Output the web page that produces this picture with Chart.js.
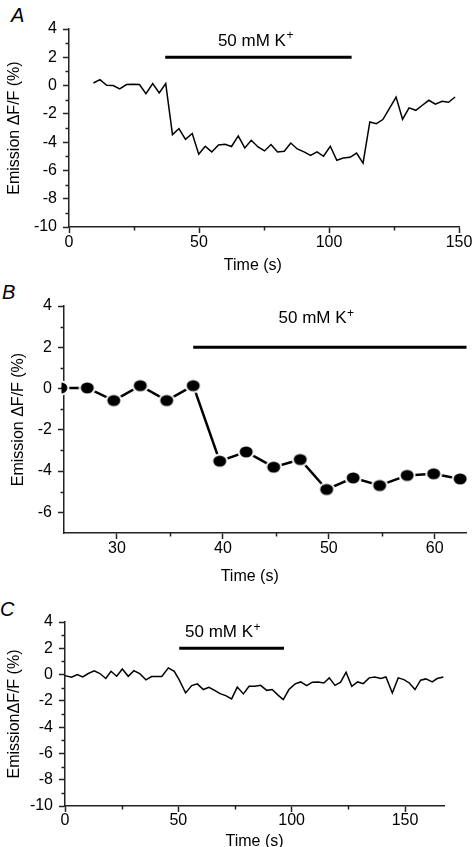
<!DOCTYPE html>
<html>
<head>
<meta charset="utf-8">
<script src="https://cdn.jsdelivr.net/npm/chart.js@4.4.0/dist/chart.umd.min.js"></script>
<style>
	html, body { margin: 0; padding: 0; background: #fff; }
	body { width: 475px; height: 847px; overflow: hidden; position: relative; }
	.panel { position: absolute; left: 0; }
	.letter { position: absolute; font: italic 20px 'Liberation Sans', Arial, sans-serif; line-height: 1; color: #000; }
</style>
</head>
<body>

<div class="letter" style="left:11px;top:5px">A</div>
<div class="letter" style="left:2px;top:282px">B</div>
<div class="letter" style="left:0px;top:599px">C</div>

<canvas class="panel" id="chartA" width="475" height="282" style="top:0px"></canvas>
<canvas class="panel" id="chartB" width="475" height="310" style="top:280px"></canvas>
<canvas class="panel" id="chartC" width="475" height="300" style="top:560px"></canvas>

<script>

// ---- data ----

// panel A: whole recording
var timeA = [9.4, 11.9, 14.5, 17.0, 19.5, 22.1, 24.6, 27.1, 29.6, 32.2, 34.7, 37.2, 39.8, 42.3,
	44.8, 47.4, 49.9, 52.4, 54.9, 57.5, 60.0, 62.5, 65.1, 67.6, 70.1, 72.7, 75.2, 77.7, 80.2,
	82.8, 85.3, 87.8, 90.4, 92.9, 95.4, 97.9, 100.5, 103.0, 105.5, 108.1, 110.6, 113.1, 115.7,
	118.2, 120.7, 123.2, 125.8, 128.3, 130.8, 133.4, 135.9, 138.4, 140.9, 143.5, 146.0, 148.5];
var emissionA = [0.18, 0.42, 0.02, 0.0, -0.24, 0.07, 0.09, 0.07, -0.57, 0.14, -0.52, 0.14, -3.47, -3.04,
	-3.80, -3.39, -4.86, -4.29, -4.69, -4.20, -4.15, -4.31, -3.56, -4.41, -3.87, -4.34, -4.62, -4.17, -4.69,
	-4.65, -4.06, -4.48, -4.69, -4.93, -4.69, -5.00, -4.29, -5.28, -5.12, -5.07, -4.77, -5.49, -2.57,
	-2.69, -2.40, -1.63, -0.81, -2.38, -1.58, -1.75, -1.39, -1.04, -1.32, -1.11, -1.18, -0.81];

// panel B: zoom on the onset
var timeB = [24.7, 27.2, 29.7, 32.2, 34.7, 37.2, 39.7, 42.2, 44.8, 47.3, 49.8, 52.3, 54.8, 57.4, 59.9, 62.4];
var emissionB = [0.03, 0.03, -0.58, 0.14, -0.58, 0.14, -3.52, -3.07, -3.81, -3.44, -4.89, -4.33, -4.70, -4.21, -4.13, -4.38];

// panel C: second cell
var timeC = [0.0, 2.9, 5.4, 7.8, 10.3, 12.9, 15.4, 18.0, 20.3, 22.8, 25.3, 27.9, 30.4, 33.1, 35.7, 38.2,
	40.4, 42.7, 45.6, 48.2, 50.4, 53.2, 55.9, 58.4, 61.0, 63.5, 66.2, 68.4, 70.9, 73.5, 76.0, 78.7,
	81.2, 83.8, 86.3, 89.0, 91.4, 94.1, 96.3, 98.8, 101.5, 104.0, 106.6, 109.1, 111.7, 114.2, 116.6,
	119.1, 121.6, 124.0, 126.5, 129.1, 131.6, 134.2, 136.7, 139.3, 141.6, 144.4, 147.0, 149.5, 151.9,
	154.4, 156.9, 159.2, 162.0, 164.2, 166.9];
var emissionC = [-0.08, -0.2, 0.0, -0.18, 0.08, 0.28, 0.08, -0.3, 0.25, -0.13, 0.43, -0.13, 0.3, 0.05, -0.4, -0.15,
	-0.15, -0.15, 0.51, 0.25, -0.4, -1.4, -0.84, -0.71, -1.14, -0.97, -1.22, -1.45, -1.6, -1.85, -0.95, -1.47,
	-0.89, -0.89, -0.82, -1.2, -1.14, -1.58, -1.9, -1.14, -0.71, -0.56, -0.84, -0.58, -0.56, -0.64, -0.25,
	-0.82, -0.58, 0.18, -0.89, -0.56, -0.69, -0.25, -0.18, -0.3, -0.18, -1.4, -0.25, -0.38, -0.64,
	-1.14, -0.43, -0.33, -0.56, -0.3, -0.18];

// 50 mM K+ application (start, end in s) and where its label sits (time, value)
var stimA = [37.0, 108.7], stimLabelA = [71.7, 3.15];
var stimB = [37.2, 63.0], stimLabelB = [48.8, 3.38];
var stimC = [50.4, 96.6], stimLabelC = [69.5, 3.2];
var stimLevel = 2;
var stimText = '50 mM K';

// tick labels
var xTicksA = [0, 50, 100, 150], xMinorA = [25, 75, 125];
var yTicksA = [-10, -8, -6, -4, -2, 0, 2, 4], yMinorA = [-9, -7, -5, -3, -1, 1, 3];
var xTicksB = [30, 40, 50, 60], xMinorB = [35, 45, 55];
var yTicksB = [-6, -4, -2, 0, 2, 4], yMinorB = [-5, -3, -1, 1, 3];
var xTicksC = [0, 50, 100, 150], xMinorC = [25, 75, 125];
var yTicksC = yTicksA, yMinorC = yMinorA;

// ---- drawing ----

var family = "'Liberation Sans', Arial, Helvetica, sans-serif";
var ink = '#000';
var axisInk = '#222';

function toPoints(xs, ys) {
	return xs.map(function(x, i) { return {x: x, y: ys[i]}; });
}

// filled ellipse with a white rim, so the joining line stops short of the dot
function makeDot() {
	var c = document.createElement('canvas');
	c.width = 18; c.height = 16;
	var g = c.getContext('2d');
	g.fillStyle = '#fff';
	g.beginPath(); g.ellipse(9, 8, 8.5, 7.5, 0, 0, Math.PI * 2); g.fill();
	g.fillStyle = ink;
	g.beginPath(); g.ellipse(9, 8, 6.5, 5.5, 0, 0, Math.PI * 2); g.fill();
	return c;
}

// short minor ticks + the "50 mM K+" label
var extrasPlugin = {
	id: 'extras',
	afterDraw: function(chart, args, opts) {
		var ctx = chart.ctx, xs = chart.scales.x, ys = chart.scales.y;
		ctx.save();
		ctx.strokeStyle = axisInk;
		ctx.lineWidth = 1.5;
		opts.xMinor.forEach(function(v) {
			var px = Math.round(xs.getPixelForValue(v)) + 0.5;
			ctx.beginPath(); ctx.moveTo(px, xs.top); ctx.lineTo(px, xs.top + 3.5); ctx.stroke();
		});
		opts.yMinor.forEach(function(v) {
			var py = Math.round(ys.getPixelForValue(v)) + 0.5;
			ctx.beginPath(); ctx.moveTo(ys.right, py); ctx.lineTo(ys.right - 3.5, py); ctx.stroke();
		});

		var lx = xs.getPixelForValue(opts.label[0]);
		var ly = ys.getPixelForValue(opts.label[1]);
		ctx.fillStyle = ink;
		ctx.textBaseline = 'middle';
		ctx.textAlign = 'left';
		ctx.font = '17px ' + family;
		var w1 = ctx.measureText(stimText).width;
		ctx.font = '12px ' + family;
		var w2 = ctx.measureText('+').width;
		var x0 = lx - (w1 + w2) / 2;
		ctx.font = '17px ' + family;
		ctx.fillText(stimText, x0, ly);
		ctx.font = '12px ' + family;
		ctx.fillText('+', x0 + w1 + 0.5, ly - 5);
		ctx.restore();
	}
};

function fixedTicks(list) {
	return function(scale) {
		scale.ticks = list.map(function(v) { return {value: v}; });
	};
}

function buildPanel(id, p) {
	var canvas = document.getElementById(id);
	var H = canvas.height;

	var trace = {
		data: toPoints(p.time, p.values),
		borderColor: ink,
		borderWidth: p.lineWidth,
		pointRadius: 0,
		tension: 0,
		clip: p.clip
	};
	if (p.dots) {
		trace.pointStyle = makeDot();
		trace.pointRadius = 6;
	}

	var bar = {
		data: [{x: p.stim[0], y: stimLevel}, {x: p.stim[1], y: stimLevel}],
		borderColor: ink,
		borderWidth: 3,
		pointRadius: 0,
		borderCapStyle: 'butt',
		clip: false
	};

	return new Chart(canvas.getContext('2d'), {
		type: 'line',
		data: {datasets: [bar, trace]},
		plugins: [extrasPlugin],
		options: {
			responsive: false,
			animation: false,
			events: [],
			layout: {padding: {top: p.area.top, right: 475 - p.area.right, left: 0, bottom: 0}},
			plugins: {
				legend: {display: false},
				tooltip: {enabled: false},
				extras: {xMinor: p.xMinor, yMinor: p.yMinor, label: p.label}
			},
			scales: {
				x: {
					type: 'linear',
					min: p.xRange[0], max: p.xRange[1],
					afterBuildTicks: fixedTicks(p.xTicks),
					afterFit: function(s) { s.height = H - p.area.bottom; },
					grid: {drawOnChartArea: false, drawTicks: true, tickLength: 6, tickWidth: 1.5, tickColor: axisInk},
					border: {display: true, color: axisInk, width: 1.5},
					ticks: {color: ink, padding: p.xTickPad, maxRotation: 0, autoSkip: false,
						font: {family: family, size: 16, lineHeight: 1}},
					title: {display: true, text: p.xTitle, color: ink,
						font: {family: family, size: 16}, padding: {top: 0, bottom: p.xTitlePad}}
				},
				y: {
					type: 'linear',
					z: 1,
					min: p.yRange[0], max: p.yRange[1],
					afterBuildTicks: fixedTicks(p.yTicks),
					afterFit: function(s) { s.width = p.area.left; },
					grid: {drawOnChartArea: false, drawTicks: true, tickLength: 6, tickWidth: 1.5, tickColor: axisInk},
					border: {display: true, color: axisInk, width: 1.5},
					ticks: {color: ink, padding: 6, autoSkip: false,
						font: {family: family, size: 16, lineHeight: 1}},
					title: {display: true, text: p.yTitle, color: ink,
						font: {family: family, size: 16}, padding: {top: p.yTitlePad, bottom: 0}}
				}
			}
		}
	});
}

buildPanel('chartA', {
	time: timeA, values: emissionA, stim: stimA, label: stimLabelA,
	xRange: [0, 150], yRange: [-10, 4],
	xTicks: xTicksA, xMinor: xMinorA, yTicks: yTicksA, yMinor: yMinorA,
	area: {left: 69, top: 29, right: 459, bottom: 227},
	xTitle: 'Time (s)\u00a0\u00a0\u00a0\u00a0\u00a0', yTitle: 'Emission \u0394F/F (%)',
	xTickPad: 2, xTitlePad: 7, yTitlePad: 5.4,
	lineWidth: 1.5, dots: false, clip: 2
});

buildPanel('chartB', {
	time: timeB, values: emissionB, stim: stimB, label: stimLabelB,
	xRange: [25, 63], yRange: [-7, 4],
	xTicks: xTicksB, xMinor: xMinorB, yTicks: yTicksB, yMinor: yMinorB,
	area: {left: 64, top: 26, right: 475, bottom: 253},
	xTitle: 'Time (s)\u00a0\u00a0\u00a0\u00a0\u00a0\u00a0\u00a0', yTitle: 'Emission \u0394F/F (%)',
	xTickPad: 2, xTitlePad: 4, yTitlePad: 8.7,
	lineWidth: 2.5, dots: true, clip: {left: 2.5, right: 10, top: 10, bottom: 10}
});

buildPanel('chartC', {
	time: timeC, values: emissionC, stim: stimC, label: stimLabelC,
	xRange: [0, 167.2], yRange: [-10, 4],
	xTicks: xTicksC, xMinor: xMinorC, yTicks: yTicksC, yMinor: yMinorC,
	area: {left: 65, top: 62, right: 444, bottom: 246},
	xTitle: 'Time (s)', yTitle: 'Emission\u0394F/F (%)',
	xTickPad: 1, xTitlePad: 9, yTitlePad: 4.6,
	lineWidth: 1.5, dots: false, clip: 2
});

</script>
</body>
</html>
